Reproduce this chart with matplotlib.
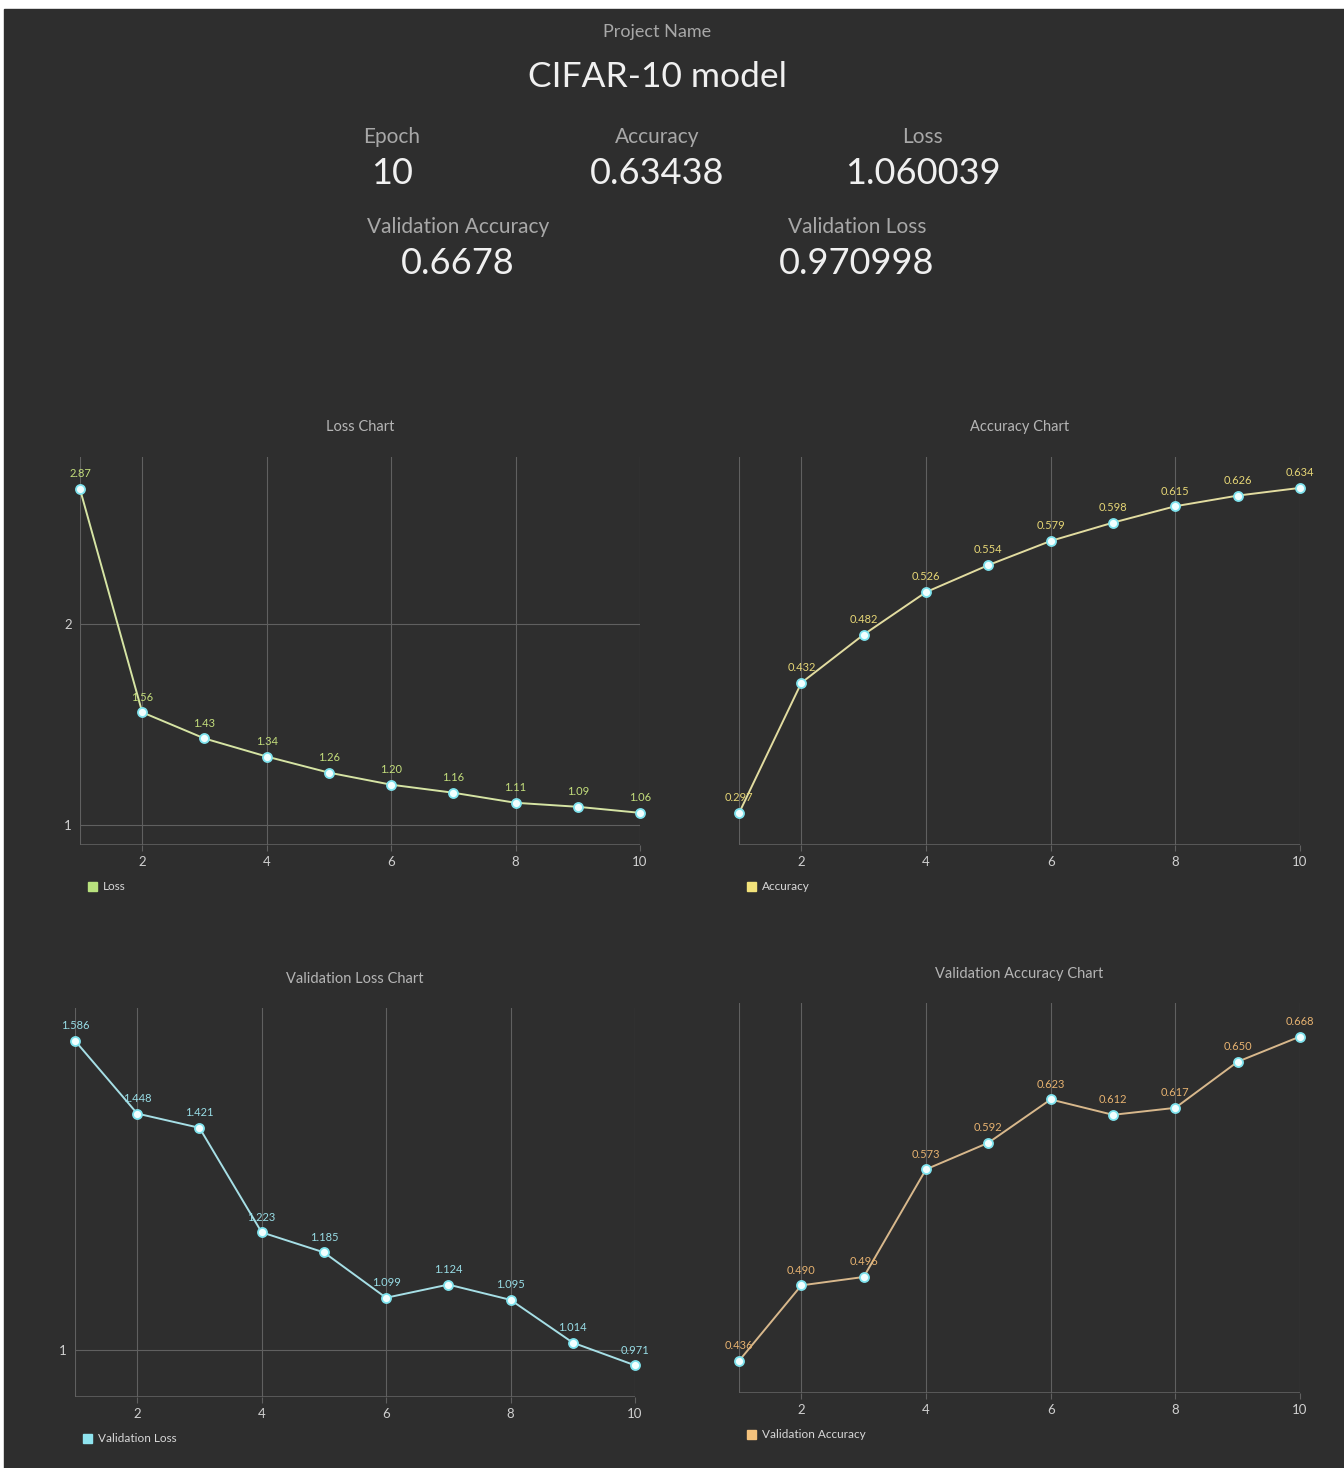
import matplotlib
matplotlib.use("Agg")
import matplotlib.pyplot as plt
from matplotlib.patches import Rectangle

plt.rcParams['font.family'] = ['Lato', 'DejaVu Sans']

W, H = 1344, 1468

# header values
project_name = "CIFAR-10 model"
epoch = "10"
accuracy = "0.63438"
loss = "1.060039"
val_accuracy = "0.6678"
val_loss = "0.970998"

# per-epoch series
epochs = [1, 2, 3, 4, 5, 6, 7, 8, 9, 10]
loss_vals = [2.67, 1.56, 1.43, 1.34, 1.26, 1.20, 1.16, 1.11, 1.09, 1.06]
loss_labels = ["2.87", "1.56", "1.43", "1.34", "1.26", "1.20", "1.16", "1.11", "1.09", "1.06"]
acc_vals = [0.297, 0.432, 0.482, 0.526, 0.554, 0.579, 0.598, 0.615, 0.626, 0.634]
val_loss_vals = [1.586, 1.448, 1.421, 1.223, 1.185, 1.099, 1.124, 1.095, 1.014, 0.971]
val_acc_vals = [0.436, 0.490, 0.496, 0.573, 0.592, 0.623, 0.612, 0.617, 0.650, 0.668]
x_ticks = [2, 4, 6, 8, 10]

BG = '#2e2e2e'
GRID = '#606060'


def fx(x):
    return x / W


def fy(y):
    return 1 - y / H


def header(fig):
    """Draw the project / metrics block at the top"""
    fig.text(fx(657), fy(32), "Project Name", color='#a8a8a8', fontsize=13,
             ha='center', va='center')
    fig.text(fx(658), fy(77), project_name, color='#f0f0f0', fontsize=25.5,
             ha='center', va='center')
    items = [
        (392, 137, 174, "Epoch", epoch),
        (657, 137, 174, "Accuracy", accuracy),
        (923, 137, 174, "Loss", loss),
        (458, 227, 264, "Validation Accuracy", val_accuracy),
        (857, 227, 264, "Validation Loss", val_loss),
    ]
    for x, ly, vy, label, value in items:
        fig.text(fx(x), fy(ly), label, color='#a8a8a8', fontsize=15,
                 ha='center', va='center')
        fig.text(fx(x), fy(vy), value, color='#f0f0f0', fontsize=26,
                 ha='center', va='center')


def line_chart(fig, box, values, labels, ylim, yticks, title, title_y,
               line_color, label_color, legend_name, legend_color, legend_y):
    """
    Draw one small Chart.js-like line chart

    Args:
        box (tuple): left, top, right, bottom in pixels
    """
    left, top, right, bottom = box
    ax = fig.add_axes([fx(left), fy(bottom), fx(right - left), (bottom - top) / H])
    ax.set_facecolor('none')
    for s in ax.spines.values():
        s.set_visible(False)

    ax.set_xlim(1, 10)
    ax.set_ylim(*ylim)

    for xv in [1] + x_ticks:
        ax.axvline(xv, color=GRID, lw=0.8, zorder=1)
    for yv in yticks:
        ax.axhline(yv, color=GRID, lw=0.8, zorder=1)
    ax.axhline(ylim[0], color=GRID, lw=1.2, zorder=1)

    ax.plot(epochs, values, color=line_color, lw=1.4, zorder=3, clip_on=False,
            marker='o', markersize=6.5, markerfacecolor='#f2ffff',
            markeredgecolor='#7fe3ee', markeredgewidth=1.3)
    for xv, yv, lab in zip(epochs, values, labels):
        ax.annotate(lab, (xv, yv), xytext=(0, 7), textcoords='offset points',
                    ha='center', va='bottom', fontsize=8, color=label_color,
                    zorder=4, annotation_clip=False)

    ax.set_xticks(x_ticks)
    ax.set_yticks(yticks)
    ax.set_yticklabels([str(v) for v in yticks])
    ax.tick_params(colors='#d0d0d0', labelsize=9.5, length=4, width=0.8,
                   pad=4)
    ax.tick_params(axis='x', color=GRID)
    ax.tick_params(axis='y', length=0, pad=6)

    fig.text(fx((left + right) / 2), fy(title_y), title, color='#b5b5b5',
             fontsize=10.5, ha='center', va='center')

    # legend square + name
    sq = 9
    fig.add_artist(Rectangle((fx(left + 8), fy(legend_y + sq / 2)), sq / W, sq / H,
                             transform=fig.transFigure, color=legend_color))
    fig.text(fx(left + 23), fy(legend_y), legend_name, color='#d8d8d8',
             fontsize=8.5, ha='left', va='center')
    return ax


def main():
    fig = plt.figure(figsize=(W / 100, H / 100), dpi=100, facecolor='white')
    fig.add_artist(Rectangle((fx(4), 0), 1 - fx(4), fy(9), transform=fig.transFigure,
                             color=BG, zorder=0))
    header(fig)

    acc_labels = [f"{v:.3f}" for v in acc_vals]
    vl_labels = [f"{v:.3f}" for v in val_loss_vals]
    va_labels = [f"{v:.3f}" for v in val_acc_vals]

    line_chart(fig, (80, 457, 640, 845), loss_vals, loss_labels, (0.90, 2.83), [1, 2],
               "Loss Chart", 427, '#d6e4a4', '#c4de7c', "Loss", '#b9e27e', 886)
    line_chart(fig, (739, 457, 1300, 845), acc_vals, acc_labels, (0.264, 0.666), [],
               "Accuracy Chart", 427, '#e2dca0', '#e6d676', "Accuracy", '#f2e27a', 886)
    line_chart(fig, (75, 1008, 635, 1397), val_loss_vals, vl_labels, (0.911, 1.648), [1],
               "Validation Loss Chart", 979, '#a6dfe6', '#98dde6', "Validation Loss",
               '#8fe4ef', 1438)
    line_chart(fig, (739, 1003, 1300, 1393), val_acc_vals, va_labels, (0.413, 0.692), [],
               "Validation Accuracy Chart", 974, '#d8b88c', '#e6b270',
               "Validation Accuracy", '#f4c27c', 1434)

    fig.savefig('out.png', dpi=100, facecolor=fig.get_facecolor())
    plt.close(fig)


if __name__ == "__main__":
    main()
